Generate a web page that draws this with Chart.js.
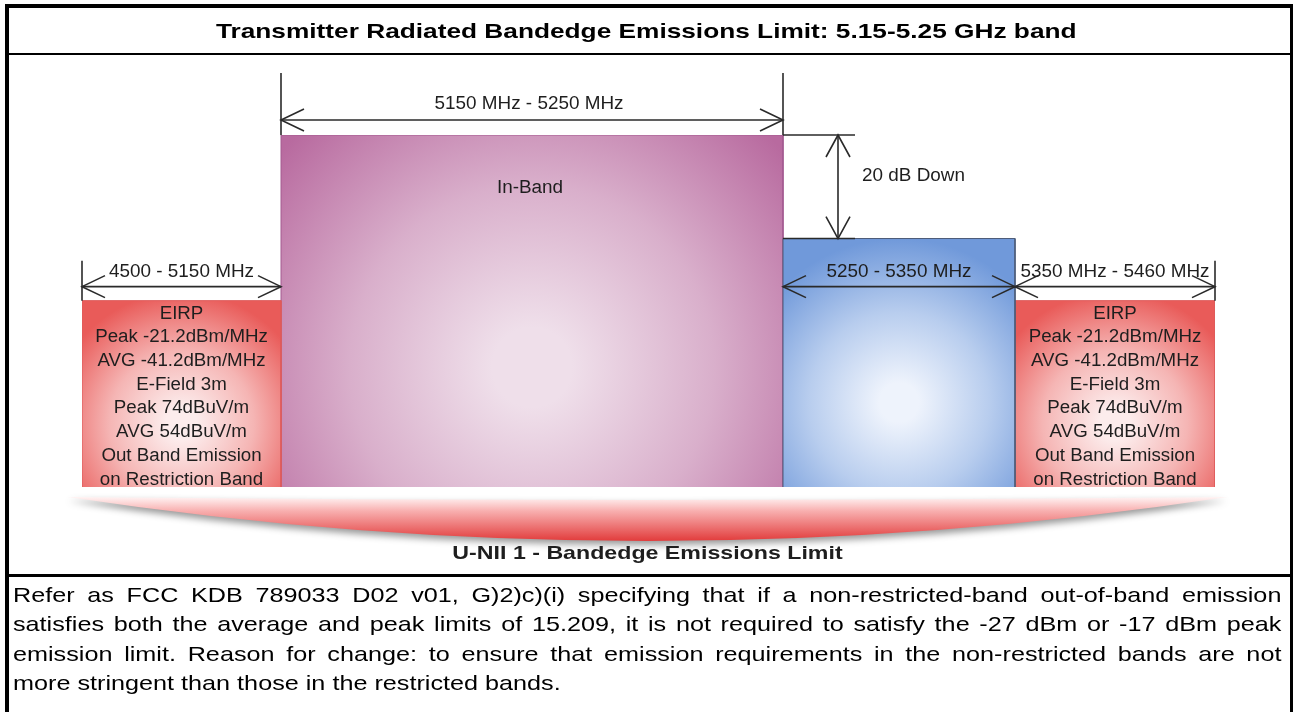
<!DOCTYPE html>
<html>
<head>
<meta charset="utf-8">
<script src="https://cdn.jsdelivr.net/npm/chart.js@4.4.1/dist/chart.umd.min.js"></script>
<style>
  html, body { margin: 0; padding: 0; background: #fff; }
  #page { position: relative; width: 1293px; height: 712px; overflow: hidden; background: #fff;
          font-family: Arial, "Liberation Sans", sans-serif; }
  #c { position: absolute; left: 0; top: 0; }
  .bar { position: absolute; background: #000; }
  #title { position: absolute; left: 0; top: 8px; width: 1293px; height: 45px; line-height: 45px;
           text-align: center; font-weight: bold; font-size: 21px; color: #000; white-space: nowrap; }
  #title span { display: inline-block; transform: scaleX(1.25); }
  #para { position: absolute; left: 13px; top: 580px; width: 1057px; font-size: 21px; line-height: 29.3px;
          transform: scaleX(1.2); transform-origin: 0 0; color: #000; }
  #para .j { text-align: justify; text-align-last: justify; }
  #para .l { text-align: left; }
</style>
</head>
<body>
<div id="page">
  <canvas id="c" width="1293" height="712"></canvas>
  <div class="bar" style="left:5px;top:4px;width:1288px;height:4px"></div>
  <div class="bar" style="left:5px;top:4px;width:4px;height:708px"></div>
  <div class="bar" style="left:1290px;top:4px;width:3px;height:708px"></div>
  <div class="bar" style="left:5px;top:53px;width:1288px;height:2px"></div>
  <div class="bar" style="left:5px;top:574px;width:1288px;height:3px"></div>
  <div id="title"><span>Transmitter Radiated Bandedge Emissions Limit: 5.15-5.25 GHz band</span></div>
  <div id="para">
    <div class="j">Refer as FCC KDB 789033 D02 v01, G)2)c)(i) specifying that if a non-restricted-band out-of-band emission</div>
    <div class="j">satisfies both the average and peak limits of 15.209, it is not required to satisfy the -27 dBm or -17 dBm peak</div>
    <div class="j">emission limit. Reason for change: to ensure that emission requirements in the non-restricted bands are not</div>
    <div class="l">more stringent than those in the restricted bands.</div>
  </div>
</div>
<script>
// ---------------- DATA ----------------
const bandNames      = ['Restricted band (lower)', 'In-Band', 'Non-restricted out-of-band', 'Restricted band (upper)'];
const bandStartMHz   = [4500, 5150, 5250, 5350];
const bandEndMHz     = [5150, 5250, 5350, 5460];
const bandLevelDb    = [-32, 0, -20, -32];          // relative level (dB) of each block
const floorDb        = -68;                          // bottom of the drawing (dB)
const rangeLabels    = ['4500 - 5150 MHz', '5150 MHz - 5250 MHz', '5250 - 5350 MHz', '5350 MHz - 5460 MHz'];
const restrictedText = ['EIRP', 'Peak -21.2dBm/MHz', 'AVG -41.2dBm/MHz', 'E-Field 3m',
                        'Peak 74dBuV/m', 'AVG 54dBuV/m', 'Out Band Emission', 'on Restriction Band'];
const inBandLabel    = 'In-Band';
const stepLabel      = '20 dB Down';
const footerLabel    = 'U-NII 1 - Bandedge Emissions Limit';

// ---------------- LAYOUT / STYLE (not data) ----------------
const bandEdgesMHz   = [4500, 5150, 5250, 5350, 5460];
const edgeFractions  = [0, 199 / 1133, 701 / 1133, 933 / 1133, 1];   // schematic (not to scale) widths
const bandEdgeColor  = ['#e95b59', '#b86a9f', '#7099da', '#e95b59'];
const bandMidColor   = ['#f5b5b4', '#d9afcb', '#b8cdee', '#f5b5b4'];
const bandCoreColor  = ['#fcecec', '#efdfea', '#eef3fc', '#fcecec'];
const bandBorder     = ['#de5a5a', '#a35a90', '#4d5c78', '#de5a5a'];
const inkColor       = '#1e1e1e';

// Piecewise schematic frequency axis
class BandScale extends Chart.LinearScale {
  _frac(v) {
    const e = bandEdgesMHz, f = edgeFractions;
    let i = 0;
    while (i < e.length - 2 && v > e[i + 1]) i++;
    return f[i] + (v - e[i]) / (e[i + 1] - e[i]) * (f[i + 1] - f[i]);
  }
  getPixelForValue(v) { return this.getPixelForDecimal(this._frac(v)); }
  getValueForPixel(p) {
    const d = this.getDecimalForPixel(p), e = bandEdgesMHz, f = edgeFractions;
    let i = 0;
    while (i < f.length - 2 && d > f[i + 1]) i++;
    return e[i] + (d - f[i]) / (f[i + 1] - f[i]) * (e[i + 1] - e[i]);
  }
}
BandScale.id = 'bandscale';
BandScale.defaults = Chart.LinearScale.defaults;
Chart.register(BandScale);

function bandGradient(i) {
  return (ctx) => {
    const chart = ctx.chart;
    if (!chart.chartArea) return bandEdgeColor[i];
    const xs = chart.scales.x, ys = chart.scales.y;
    const x0 = xs.getPixelForValue(bandStartMHz[i]), x1 = xs.getPixelForValue(bandEndMHz[i]);
    const y0 = ys.getPixelForValue(bandLevelDb[i]), y1 = ys.getPixelForValue(floorDb);
    const cx = (x0 + x1) / 2, cy = y0 + (y1 - y0) * 0.66;
    const r = Math.max(x1 - x0, y1 - y0) * 0.66;
    const g = chart.ctx.createRadialGradient(cx, cy, 0, cx, cy, r);
    g.addColorStop(0, bandCoreColor[i]);
    g.addColorStop(0.12, bandCoreColor[i]);
    g.addColorStop(0.55, bandMidColor[i]);
    g.addColorStop(1, bandEdgeColor[i]);
    return g;
  };
}

const datasets = bandNames.map((name, i) => ({
  label: name,
  data: [
    { x: bandStartMHz[i], y: floorDb },
    { x: bandStartMHz[i], y: bandLevelDb[i] },
    { x: bandEndMHz[i],   y: bandLevelDb[i] },
    { x: bandEndMHz[i],   y: floorDb }
  ],
  fill: 'start',
  backgroundColor: bandGradient(i),
  borderColor: bandBorder[i],
  borderWidth: 1,
  pointRadius: 0,
  tension: 0,
  order: i === 1 ? 1 : 0
}));

function sText(ctx, txt, x, y, sx, align) {
  ctx.save();
  ctx.translate(x, y);
  ctx.scale(sx, 1);
  ctx.textAlign = align || 'center';
  ctx.textBaseline = 'middle';
  ctx.fillText(txt, 0, 0);
  ctx.restore();
}
function line(ctx, x0, y0, x1, y1) {
  ctx.beginPath(); ctx.moveTo(x0, y0); ctx.lineTo(x1, y1); ctx.stroke();
}
function head(ctx, tx, ty, dx, dy, len, half) {
  const px = -dy, py = dx;
  ctx.beginPath();
  ctx.moveTo(tx - dx * len + px * half, ty - dy * len + py * half);
  ctx.lineTo(tx, ty);
  ctx.lineTo(tx - dx * len - px * half, ty - dy * len - py * half);
  ctx.stroke();
}
function hArrow(ctx, xa, xb, y) {
  line(ctx, xa, y, xb, y);
  head(ctx, xa, y, -1, 0, 23, 11);
  head(ctx, xb, y, 1, 0, 23, 11);
}

const annotations = {
  id: 'annotations',
  afterDatasetsDraw(chart) {
    const ctx = chart.ctx, xs = chart.scales.x, ys = chart.scales.y;
    const X = v => xs.getPixelForValue(v), Y = v => ys.getPixelForValue(v);
    ctx.save();
    ctx.strokeStyle = '#2a2a2a';
    ctx.lineWidth = 1.6;
    ctx.fillStyle = inkColor;
    ctx.font = '18px Arial, "Liberation Sans", sans-serif';

    const yIn = Y(bandLevelDb[1]), yOob = Y(bandLevelDb[2]), yR = Y(bandLevelDb[0]), yB = Y(floorDb);

    // In-band span
    line(ctx, X(bandStartMHz[1]), yIn - 62, X(bandStartMHz[1]), yIn);
    line(ctx, X(bandEndMHz[1]), yIn - 62, X(bandEndMHz[1]), yIn);
    hArrow(ctx, X(bandStartMHz[1]), X(bandEndMHz[1]), yIn - 15);
    sText(ctx, rangeLabels[1], X((bandStartMHz[1] + bandEndMHz[1]) / 2) - 3, yIn - 31, 1.05);
    sText(ctx, inBandLabel, X((bandStartMHz[1] + bandEndMHz[1]) / 2) - 2, yIn + 53, 1.05);

    // 20 dB step
    const xe = X(bandEndMHz[1]);
    line(ctx, xe, yIn, xe + 72, yIn);
    line(ctx, xe, yOob, xe + 72, yOob);
    line(ctx, xe + 55, yIn, xe + 55, yOob);
    head(ctx, xe + 55, yIn, 0, -1, 22, 12);
    head(ctx, xe + 55, yOob, 0, 1, 22, 12);
    sText(ctx, stepLabel, xe + 79, (yIn + yOob) / 2 - 11, 1.05, 'left');

    // lower spans
    const yA = yR - 14, yT = yR - 29;
    line(ctx, X(bandStartMHz[0]), yR - 40, X(bandStartMHz[0]), yR);
    line(ctx, X(bandEndMHz[3]), yR - 40, X(bandEndMHz[3]), yR);
    [0, 2, 3].forEach(i => {
      hArrow(ctx, X(bandStartMHz[i]), X(bandEndMHz[i]), yA);
      sText(ctx, rangeLabels[i], (X(bandStartMHz[i]) + X(bandEndMHz[i])) / 2, yT, 1.05);
    });

    // restricted band text
    [0, 3].forEach(i => {
      const cx = (X(bandStartMHz[i]) + X(bandEndMHz[i])) / 2;
      restrictedText.forEach((t, k) => sText(ctx, t, cx, yR + 13 + k * 23.7, 1.04));
    });

    // swoosh
    const sl = X(bandEdgesMHz[0]) - 14, sr = X(bandEdgesMHz[4]) + 12, st = yB + 10, mid = (sl + sr) / 2;
    ctx.save();
    ctx.beginPath();
    ctx.moveTo(sl, st);
    ctx.quadraticCurveTo(mid, st + 6, sr, st);
    ctx.quadraticCurveTo(mid, st + 88, sl, st);
    ctx.closePath();
    const g = ctx.createLinearGradient(0, st, 0, st + 46);
    g.addColorStop(0, '#fff4f4');
    g.addColorStop(0.3, '#f8b0b0');
    g.addColorStop(1, '#e03434');
    ctx.fillStyle = g;
    ctx.shadowColor = 'rgba(0,0,0,0.4)';
    ctx.shadowBlur = 7;
    ctx.shadowOffsetY = 4;
    ctx.fill();
    ctx.restore();

    ctx.fillStyle = inkColor;
    ctx.font = 'bold 19px Arial, "Liberation Sans", sans-serif';
    sText(ctx, footerLabel, mid, yB + 67, 1.22);
    ctx.restore();
  }
};

new Chart(document.getElementById('c'), {
  type: 'line',
  data: { datasets },
  options: {
    responsive: false,
    animation: false,
    devicePixelRatio: 1,
    layout: { padding: { left: 82, right: 78, top: 135, bottom: 225 } },
    plugins: { legend: { display: false }, tooltip: { enabled: false }, title: { display: false } },
    scales: {
      x: { type: 'bandscale', min: bandEdgesMHz[0], max: bandEdgesMHz[4], display: false },
      y: { type: 'linear', min: floorDb, max: 0, display: false }
    }
  },
  plugins: [annotations]
});
</script>
</body>
</html>
